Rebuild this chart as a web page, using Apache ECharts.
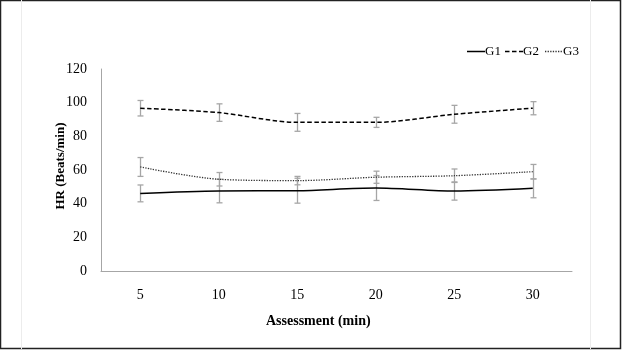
<!DOCTYPE html>
<html>
<head>
<meta charset="utf-8">
<script src="https://cdn.jsdelivr.net/npm/echarts@6/dist/echarts.min.js"></script>
<style>
html,body{margin:0;padding:0;background:#fff;}
#c{width:622px;height:350px;}
</style>
</head>
<body>
<div id="c"></div>
<script>
var categories = ['5', '10', '15', '20', '25', '30'];
var seriesNames = ['G1', 'G2', 'G3'];
var g1 = [46.1, 47.5, 47.7, 49.3, 47.5, 49.1];
var g2 = [96.7, 94.1, 88.3, 88.3, 93.1, 96.7];
var g3 = [61.8, 54.5, 53.7, 55.7, 56.6, 59.0];
var g1Err = [5.0, 7.0, 7.4, 7.4, 5.4, 5.6];
var g2Err = [4.6, 5.2, 5.3, 3.0, 5.3, 3.9];
var g3Err = [5.6, 4.0, 2.5, 3.6, 4.0, 4.3];
var yTicks = [0, 20, 40, 60, 80, 100, 120];

var FONT = '"Liberation Serif", "DejaVu Serif", serif';

function errData(vals, errs) {
  return vals.map(function (v, i) { return [i, v - errs[i], v + errs[i]]; });
}

function errSeries(vals, errs) {
  return {
    type: 'custom',
    silent: true,
    z: 1,
    data: errData(vals, errs),
    encode: { x: 0, y: [1, 2] },
    renderItem: function (params, api) {
      var lo = api.coord([api.value(0), api.value(1)]);
      var hi = api.coord([api.value(0), api.value(2)]);
      var x = Math.round(lo[0]) + 0.5;
      var cap = 3;
      var st = { stroke: '#a6a6a6', lineWidth: 1.3 };
      return {
        type: 'group',
        children: [
          { type: 'line', shape: { x1: x, y1: hi[1], x2: x, y2: lo[1] }, style: st },
          { type: 'line', shape: { x1: x - cap, y1: hi[1], x2: x + cap, y2: hi[1] }, style: st },
          { type: 'line', shape: { x1: x - cap, y1: lo[1], x2: x + cap, y2: lo[1] }, style: st }
        ]
      };
    }
  };
}

var lineStyles = [
  { color: '#000', width: 1.5, type: 'solid' },
  { color: '#000', width: 1.5, type: [4.5, 2.5] },
  { color: '#333', width: 1.3, type: [1.3, 1.3] }
];

// manual legend (line sample + label)
var legendX = [467, 505, 545];
var legendGraphics = [];
seriesNames.forEach(function (n, i) {
  var ls = lineStyles[i];
  legendGraphics.push({
    type: 'line', silent: true,
    shape: { x1: legendX[i], y1: 51.5, x2: legendX[i] + 18, y2: 51.5 },
    style: { stroke: ls.color, lineWidth: ls.width, lineDash: ls.type === 'solid' ? null : ls.type }
  });
  legendGraphics.push({
    type: 'text', silent: true, x: legendX[i] + 18, y: 51.5,
    style: { text: n, font: '13px ' + FONT, fill: '#000', textVerticalAlign: 'middle', verticalAlign: 'middle' }
  });
});

var chart = echarts.init(document.getElementById('c'));
chart.setOption({
  animation: false,
  backgroundColor: '#fff',
  textStyle: { fontFamily: FONT },
  grid: { left: 101, right: 50, top: 69, bottom: 79 },
  xAxis: {
    type: 'category',
    data: categories,
    boundaryGap: true,
    axisLine: { lineStyle: { color: '#a6a6a6', width: 1 } },
    axisTick: { show: false },
    axisLabel: { fontFamily: FONT, fontSize: 14, color: '#000', margin: 17 }
  },
  yAxis: {
    type: 'value',
    min: yTicks[0],
    max: yTicks[yTicks.length - 1],
    interval: 20,
    axisLine: { show: true, lineStyle: { color: '#a6a6a6', width: 1 } },
    axisTick: { show: false },
    splitLine: { show: false },
    axisLabel: { fontFamily: FONT, fontSize: 14, color: '#000', margin: 14 }
  },
  graphic: [
    { type: 'rect', shape: { x: 0.5, y: 0.5, width: 620, height: 348 }, style: { fill: 'none', stroke: '#222', lineWidth: 1.5 }, silent: true },
    { type: 'line', shape: { x1: 21.5, y1: 0, x2: 21.5, y2: 349 }, style: { stroke: '#ececec', lineWidth: 1 }, silent: true },
    { type: 'line', shape: { x1: 590.5, y1: 0, x2: 590.5, y2: 349 }, style: { stroke: '#ececec', lineWidth: 1 }, silent: true },
    { type: 'text', left: 266, top: 314, style: { text: 'Assessment (min)', font: 'bold 14px ' + FONT, fill: '#000' } },
    { type: 'text', x: 61, y: 166, rotation: Math.PI / 2,
      style: { text: 'HR (Beats/min)', font: 'bold 13px ' + FONT, fill: '#000', align: 'center', verticalAlign: 'middle' } }
  ].concat(legendGraphics),
  series: [
    errSeries(g1, g1Err),
    errSeries(g2, g2Err),
    errSeries(g3, g3Err),
    { name: seriesNames[0], type: 'line', data: g1, smooth: 0.3, symbol: 'none', z: 3,
      lineStyle: lineStyles[0], itemStyle: { color: '#000' } },
    { name: seriesNames[1], type: 'line', data: g2, smooth: 0.3, symbol: 'none', z: 3,
      lineStyle: lineStyles[1], itemStyle: { color: '#000' } },
    { name: seriesNames[2], type: 'line', data: g3, smooth: 0.3, symbol: 'none', z: 3,
      lineStyle: lineStyles[2], itemStyle: { color: '#333' } }
  ]
});
</script>
</body>
</html>
